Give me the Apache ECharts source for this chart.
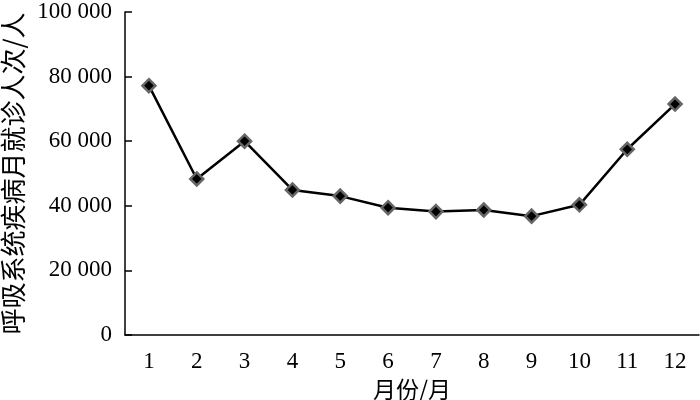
<!DOCTYPE html>
<html>
<head>
<meta charset="utf-8">
<script src="https://cdn.jsdelivr.net/npm/echarts@6/dist/echarts.min.js"></script>
<style>
  html, body { margin: 0; padding: 0; background: #fff; }
  #chart { width: 700px; height: 400px; }
</style>
</head>
<body>
<div id="chart"></div>
<script>
// 月份 / 就诊人次
const months = ['1', '2', '3', '4', '5', '6', '7', '8', '9', '10', '11', '12']
const visits = [77200, 48300, 60000, 44900, 43000, 39400, 38200, 38700, 36800, 40300, 57500, 71500]

const serif = '"Liberation Serif", "Noto Sans CJK SC", serif'
const cjk = '"Noto Sans CJK SC", "Liberation Serif", serif'

// 千位用空格分隔
const fmt = v => String(v).replace(/\B(?=(\d{3})+(?!\d))/g, ' ')

const chart = echarts.init(document.getElementById('chart'), null, { renderer: 'canvas' })
chart.setOption({
  animation: false,
  backgroundColor: '#fff',
  grid: { left: 125, right: 1, top: 12, bottom: 65, containLabel: false, outerBoundsMode: 'none' },
  xAxis: {
    type: 'category',
    data: months,
    boundaryGap: true,
    name: '月份/月',
    nameLocation: 'middle',
    nameGap: 40,
    nameTextStyle: { fontFamily: cjk, fontSize: 23, color: '#000' },
    axisLine: { lineStyle: { color: '#000', width: 1.5 } },
    axisTick: { inside: true, length: 7, lineStyle: { color: '#000', width: 1.5 } },
    axisLabel: { margin: 15, fontFamily: serif, fontSize: 23, color: '#000' },
    splitLine: { show: false }
  },
  yAxis: {
    type: 'value',
    min: 0,
    max: 100000,
    interval: 20000,
    name: '呼吸系统疾病月就诊人次/人',
    nameLocation: 'middle',
    nameRotate: 90,
    nameGap: 99,
    nameTextStyle: { fontFamily: cjk, fontSize: 26, color: '#000' },
    axisLine: { show: true, lineStyle: { color: '#000', width: 1.5 } },
    axisTick: { show: true, inside: true, length: 7, lineStyle: { color: '#000', width: 1.5 } },
    axisLabel: { margin: 13, fontFamily: serif, fontSize: 23, color: '#000', formatter: fmt },
    splitLine: { show: false }
  },
  series: [{
    type: 'line',
    data: visits,
    symbol: 'diamond',
    symbolSize: 13,
    lineStyle: { color: '#000', width: 2.5 },
    itemStyle: { color: '#000', borderColor: '#666', borderWidth: 2.5 }
  }]
})
</script>
</body>
</html>
